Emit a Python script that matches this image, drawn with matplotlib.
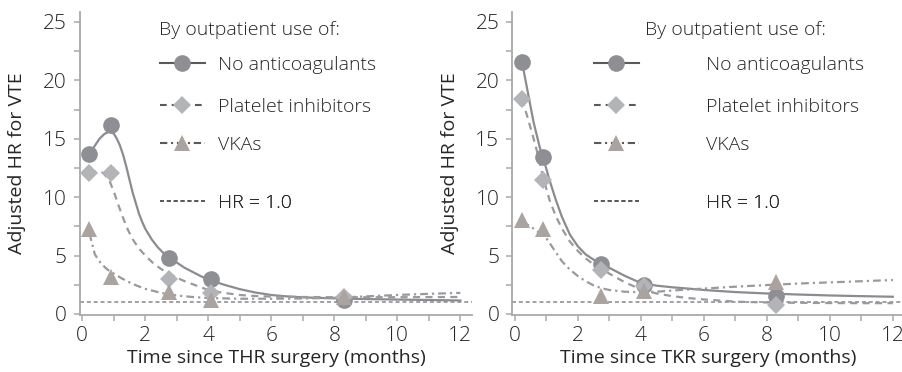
import matplotlib
matplotlib.use("Agg")
import matplotlib.pyplot as plt
from matplotlib.lines import Line2D
from matplotlib.ticker import MultipleLocator

plt.rcParams["font.family"] = ["Open Sans", "DejaVu Sans"]
plt.rcParams["font.weight"] = "light"

# Interval midpoints (months after surgery)
times = [0.23, 0.9, 2.75, 4.1, 8.3]

# Hip replacement (THR): adjusted hazard ratios
thr_none = [13.65, 16.2, 4.8, 2.95, 1.2]
thr_plat = [12.05, 12.05, 2.95, 1.8, 1.45]
thr_vka = [7.3, 3.2, 1.88, 1.15, 1.45]

# Knee replacement (TKR): adjusted hazard ratios
tkr_none = [21.6, 13.4, 4.3, 2.5, 1.55]
tkr_plat = [18.4, 11.5, 3.8, 2.4, 0.75]
tkr_vka = [8.0, 7.25, 1.55, 1.95, 2.7]

# Smoothed trend curves
thr_none_t = [0.23, 0.4, 0.55, 0.7, 0.85, 1.0, 1.1, 1.2, 1.3, 1.4, 1.5, 1.6, 1.7,
              1.8, 1.9, 2.0, 2.2, 2.4, 2.6, 2.8, 3.0, 3.25, 3.5, 3.75, 4.0, 4.5,
              5.0, 5.5, 6.0, 6.5, 7.0, 8.0, 9.0, 10.0, 11.0, 12.0]
thr_none_fit = [13.65, 14.4, 15.0, 15.4, 15.6, 15.45, 15.0, 14.4, 13.6, 12.6, 11.5,
                10.4, 9.5, 8.6, 7.9, 7.3, 6.4, 5.7, 5.15, 4.75, 4.4, 3.95, 3.6,
                3.25, 2.95, 2.5, 2.12, 1.83, 1.62, 1.5, 1.42, 1.33, 1.27, 1.23,
                1.19, 1.15]

thr_plat_t = [0.23, 0.45, 0.65, 0.85, 1.0, 1.15, 1.3, 1.45, 1.6, 1.8, 2.0, 2.25,
              2.5, 2.75, 3.0, 3.25, 3.5, 3.75, 4.0, 4.5, 5.0, 5.5, 6.0, 7.0, 8.0,
              9.0, 10.0, 11.0, 12.0]
thr_plat_fit = [12.0, 12.2, 12.1, 11.5, 10.5, 9.3, 8.2, 7.2, 6.4, 5.6, 5.0, 4.35,
                3.85, 3.45, 3.1, 2.8, 2.55, 2.3, 2.05, 1.8, 1.62, 1.53, 1.48, 1.45,
                1.43, 1.43, 1.43, 1.44, 1.45]

thr_vka_t = [0.23, 0.4, 0.6, 0.8, 1.0, 1.25, 1.5, 1.75, 2.0, 2.5, 3.0, 3.5, 4.0,
             5.0, 6.0, 7.0, 8.0, 9.0, 10.0, 11.0, 12.0]
thr_vka_fit = [6.9, 5.1, 4.3, 3.8, 3.45, 3.05, 2.7, 2.4, 2.15, 1.8, 1.58, 1.45, 1.36,
               1.3, 1.3, 1.32, 1.38, 1.5, 1.62, 1.72, 1.8]

tkr_none_t = [0.23, 0.4, 0.6, 0.8, 0.91, 1.1, 1.3, 1.5, 1.75, 2.0, 2.25, 2.5, 2.75,
              3.0, 3.5, 4.0, 4.5, 5.0, 5.5, 6.0, 7.0, 8.0, 9.0, 10.0, 11.0, 12.0]
tkr_none_fit = [21.6, 19.2, 16.4, 14.2, 13.3, 11.5, 9.8, 8.3, 6.8, 5.8, 5.1, 4.65,
                4.3, 3.95, 3.25, 2.65, 2.42, 2.28, 2.17, 2.05, 1.87, 1.75, 1.66,
                1.58, 1.52, 1.47]

tkr_plat_t = [0.23, 0.4, 0.55, 0.72, 0.91, 1.1, 1.3, 1.5, 1.75, 2.0, 2.25, 2.5,
              2.79, 3.0, 3.5, 4.0, 4.5, 5.0, 5.5, 6.0, 7.0, 8.0, 9.0, 10.0, 11.0,
              12.0]
tkr_plat_fit = [18.4, 16.9, 15.5, 13.8, 11.6, 9.8, 8.4, 7.3, 6.2, 5.4, 4.75, 4.25,
                3.8, 3.45, 2.7, 2.1, 1.75, 1.52, 1.36, 1.24, 1.05, 0.98, 0.95, 0.93,
                0.92, 0.92]

tkr_vka_t = [0.23, 0.5, 0.75, 1.0, 1.25, 1.5, 1.75, 2.0, 2.25, 2.5, 2.75, 3.0, 3.5,
             4.0, 4.5, 5.0, 6.0, 7.0, 8.0, 9.0, 10.0, 11.0, 12.0]
tkr_vka_fit = [7.9, 7.5, 7.0, 6.5, 5.5, 4.5, 3.8, 3.25, 2.8, 2.45, 2.2, 2.05, 1.9,
               1.86, 1.9, 2.0, 2.17, 2.33, 2.47, 2.6, 2.7, 2.8, 2.9]

reference_hr = 1.0
x_labels = ["Time since THR surgery (months)", "Time since TKR surgery (months)"]
series_labels = ["No anticoagulants", "Platelet inhibitors", "VKAs"]
ref_label = "HR = 1.0"
legend_title = "By outpatient use of:"
y_label = "Adjusted HR for VTE"

TEXT = "#262626"
AXIS = "#a9a9a9"
C_NONE = "#8e8f95"
C_PLAT = "#b3b4b8"
C_VKA = "#aaa39f"
L_NONE = "#8c8c90"
L_OTHER = "#9a9a9e"
HANDLE_LINE = "#5e5959"

FS = 14
TICK_FS = 15
DASH = (0, (3.2, 2.4))
DASHDOT = (0, (3.5, 1.8, 1.0, 1.8))
REFDASH = (0, (2.2, 1.6))

fig = plt.figure(figsize=(9.03, 3.72), dpi=100)
ax_l = fig.add_axes([80 / 903, 1 - 314.5 / 372, 392 / 903, 302.5 / 372])
ax_r = fig.add_axes([512.5 / 903, 1 - 314.5 / 372, 392 / 903, 302.5 / 372])

panels = [
    (ax_l, (thr_none, thr_plat, thr_vka),
     ((thr_none_t, thr_none_fit), (thr_plat_t, thr_plat_fit), (thr_vka_t, thr_vka_fit)),
     x_labels[0], 0.2015, 0.204, 0.67),
    (ax_r, (tkr_none, tkr_plat, tkr_vka),
     ((tkr_none_t, tkr_none_fit), (tkr_plat_t, tkr_plat_fit), (tkr_vka_t, tkr_vka_fit)),
     x_labels[1], 0.338, 0.208, 3.45),
]

markers = ["o", "D", "^"]
msizes = [12, 8.7, 11.5]
mcolors = [C_NONE, C_PLAT, C_VKA]
lstyles = ["-", DASH, DASHDOT]
lcolors = [L_NONE, L_OTHER, L_OTHER]

for ax, points, fits, xlabel, title_x, handle_x, textpad in panels:
    ax.axhline(reference_hr, color=L_OTHER, lw=1.3, ls=REFDASH, zorder=1)
    for (ft, fv), ls, lc in zip(fits, lstyles, lcolors):
        ax.plot(ft, fv, color=lc, lw=1.6, ls=ls, zorder=2)
    for vals, mk, ms, mc in zip(points, markers, msizes, mcolors):
        ax.plot(times, vals, ls="none", marker=mk, ms=ms, color=mc,
                markeredgewidth=0, zorder=3)

    ax.set_xlim(-0.07, 12.37)
    ax.set_ylim(-0.05, 25.85)
    ax.xaxis.set_major_locator(MultipleLocator(2))
    ax.xaxis.set_minor_locator(MultipleLocator(1))
    ax.yaxis.set_major_locator(MultipleLocator(5))
    ax.yaxis.set_minor_locator(MultipleLocator(2.5))
    for side in ("top", "right"):
        ax.spines[side].set_visible(False)
    for side in ("left", "bottom"):
        ax.spines[side].set_color(AXIS)
        ax.spines[side].set_linewidth(1.3)
    ax.tick_params(which="both", direction="out", color=AXIS, width=1.1,
                   labelsize=TICK_FS, labelcolor=TEXT, length=4)
    ax.tick_params(axis="y", pad=5.5)
    ax.tick_params(axis="x", pad=4.5)
    ax.set_xlabel(xlabel, fontsize=FS, color=TEXT, labelpad=2)
    ax.set_ylabel(y_label, fontsize=FS, color=TEXT, labelpad=12)

    # legend: title, one row per series, then the reference line
    ax.text(title_x, 0.9405, legend_title, transform=ax.transAxes, fontsize=FS,
            color=TEXT, ha="left", va="center")
    rows = [0.825, 0.686, 0.560]
    for lab, mk, ms, mc, ls, yy in zip(series_labels, markers, msizes, mcolors,
                                        lstyles, rows):
        h = Line2D([], [], color=HANDLE_LINE, lw=1.5, ls=ls, marker=mk, ms=ms,
                   markerfacecolor=mc, markeredgewidth=0)
        leg = ax.legend([h], [lab], loc="center left", bbox_to_anchor=(handle_x, yy),
                        bbox_transform=ax.transAxes, frameon=False, borderpad=0,
                        borderaxespad=0, handlelength=2.3, handletextpad=textpad,
                        fontsize=FS, labelcolor=TEXT)
        ax.add_artist(leg)
    href = Line2D([], [], color=HANDLE_LINE, lw=1.3, ls=REFDASH)
    leg = ax.legend([href], [ref_label], loc="center left",
                    bbox_to_anchor=(handle_x, 0.369), bbox_transform=ax.transAxes,
                    frameon=False, borderpad=0, borderaxespad=0, handlelength=2.3,
                    handletextpad=textpad, fontsize=FS, labelcolor=TEXT)
    ax.add_artist(leg)

fig.savefig("out.png", dpi=100)
